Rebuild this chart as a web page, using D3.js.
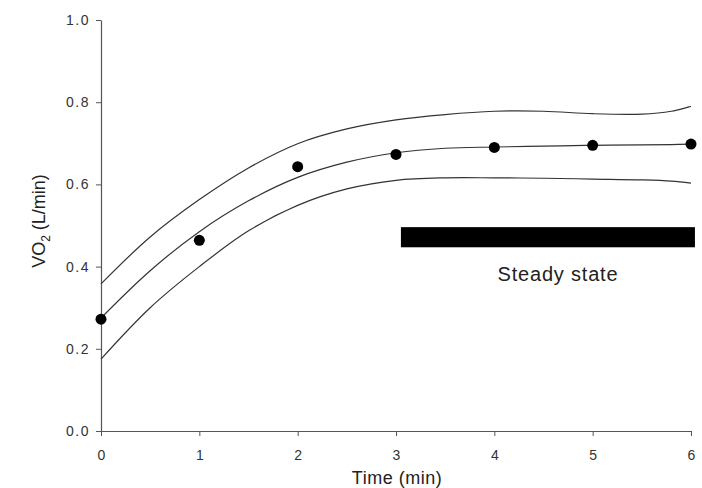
<!DOCTYPE html>
<html>
<head>
<meta charset="utf-8">
<script src="https://cdn.jsdelivr.net/npm/d3@7"></script>
<style>
  html, body { margin: 0; padding: 0; background: #fff; }
  svg { display: block; font-family: "Liberation Sans", Arial, sans-serif; }
</style>
</head>
<body>
<svg id="chart" width="702" height="488"></svg>
<script>
// Data
const xTicks = [0, 1, 2, 3, 4, 5, 6];
const yTicks = [0.0, 0.2, 0.4, 0.6, 0.8, 1.0];
const obsTime = [0, 1, 2, 3, 4, 5, 6];
const obsVO2 = [0.272, 0.464, 0.643, 0.673, 0.690, 0.695, 0.698];
const fitTime = [0, 0.5, 1, 1.5, 2, 2.5, 3, 3.5, 4, 4.5, 5, 5.5, 5.8, 6];
const fitMean = [0.275, 0.390, 0.485, 0.560, 0.617, 0.654, 0.677, 0.688, 0.691, 0.693, 0.695, 0.696, 0.697, 0.698];
const fitUpper = [0.358, 0.472, 0.563, 0.640, 0.699, 0.735, 0.757, 0.770, 0.778, 0.778, 0.772, 0.771, 0.778, 0.790];
const fitLower = [0.175, 0.300, 0.400, 0.487, 0.549, 0.589, 0.610, 0.616, 0.616, 0.615, 0.613, 0.611, 0.608, 0.603];
const steadyStart = 3.05, steadyEnd = 6.04, steadyLow = 0.447, steadyHigh = 0.496;
const steadyLabel = "Steady state";

const svg = d3.select("#chart");
const x = d3.scaleLinear().domain([0, 6]).range([101, 691]);
const y = d3.scaleLinear().domain([0, 1]).range([431, 20]);

// Axes
const xAxis = svg.append("g").attr("transform", `translate(0,${y(0)})`)
  .call(d3.axisBottom(x).tickValues(xTicks).tickSize(5).tickSizeOuter(0).tickFormat(d3.format("d")));
const yAxis = svg.append("g").attr("transform", `translate(${x(0)},0)`)
  .call(d3.axisLeft(y).tickValues(yTicks).tickSize(5).tickSizeOuter(0).tickFormat(d3.format(".1f")));

[xAxis, yAxis].forEach(g => {
  g.select(".domain").attr("stroke", "#555").attr("stroke-width", 1.2);
  g.selectAll(".tick line").attr("stroke", "#555");
  g.selectAll(".tick text").attr("fill", "#333").style("font-size", "14px")
    .style("font-family", "'Liberation Sans', Arial, sans-serif");
});
xAxis.selectAll(".tick text").attr("dy", null).attr("y", 0).attr("dominant-baseline", "auto")
  .attr("transform", "translate(0,29)");
yAxis.selectAll(".tick text").attr("x", -11).style("letter-spacing", "1.5px");

// Axis titles
svg.append("text").attr("x", 397).attr("y", 484).attr("text-anchor", "middle")
  .attr("fill", "#222").style("font-size", "18px").style("letter-spacing", "0.5px").text("Time (min)");
const yt = svg.append("text").attr("transform", "translate(45,221) rotate(-90)")
  .attr("text-anchor", "middle").attr("fill", "#222").style("font-size", "18px");
yt.append("tspan").text("VO");
yt.append("tspan").attr("dy", 5).style("font-size", "12px").text("2");
yt.append("tspan").attr("dy", -5).text(" (L/min)");

// Curves
const line = d3.line().x(d => x(d[0])).y(d => y(d[1])).curve(d3.curveCatmullRom.alpha(0.5));
[fitUpper, fitMean, fitLower].forEach(series => {
  svg.append("path").datum(fitTime.map((t, i) => [t, series[i]]))
    .attr("d", line).attr("fill", "none").attr("stroke", "#333").attr("stroke-width", 1.2);
});

// Steady-state bar
svg.append("rect").attr("x", x(steadyStart)).attr("y", y(steadyHigh))
  .attr("width", x(steadyEnd) - x(steadyStart)).attr("height", y(steadyLow) - y(steadyHigh))
  .attr("fill", "#000");
svg.append("text").attr("x", 558).attr("y", 281).attr("text-anchor", "middle")
  .attr("fill", "#222").style("font-size", "20px").style("letter-spacing", "0.8px").text(steadyLabel);

// Observed points
svg.selectAll("circle.obs").data(obsTime.map((t, i) => [t, obsVO2[i]])).enter()
  .append("circle").attr("class", "obs").attr("cx", d => x(d[0])).attr("cy", d => y(d[1]))
  .attr("r", 5.5).attr("fill", "#000");
</script>
</body>
</html>
